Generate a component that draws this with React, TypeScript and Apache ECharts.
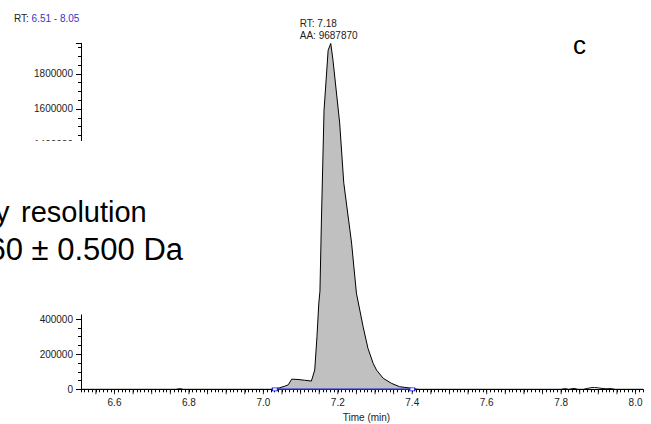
import React, { useEffect, useRef } from 'react';
import * as echarts from 'echarts';

// Retention time (min) and intensity of the chromatogram trace
const rtMinutes = [
  6.51, 6.55, 6.6, 6.65, 6.7, 6.74, 6.765, 6.775, 6.785, 6.82, 6.88, 6.94, 6.99, 7.02,
  7.031, 7.044, 7.058, 7.067, 7.076, 7.093, 7.11, 7.129, 7.138, 7.144, 7.149, 7.152,
  7.156, 7.163, 7.174, 7.181, 7.187, 7.205, 7.216, 7.229, 7.237, 7.25, 7.268, 7.281,
  7.295, 7.304, 7.322, 7.344, 7.366, 7.38, 7.393, 7.405, 7.42, 7.5, 7.6, 7.7, 7.78,
  7.8, 7.81, 7.82, 7.835, 7.845, 7.86, 7.87, 7.88, 7.89, 7.9, 7.91, 7.92, 7.935,
  7.945, 7.96, 8.0, 8.02,
];
const intensity = [
  0, 0, 0, 0, 0, 0, 0, 4000, 0, 0, 0, 0, 0, 0,
  1500, 9000, 18000, 26000, 58000, 56000, 52000, 47000, 110000, 300000, 492000, 560000,
  966000, 1593000, 1935000, 1974000, 1879000, 1521000, 1179000, 966000, 835000, 549000, 357000, 234000,
  148000, 110000, 62800, 34200, 14800, 11000, 7400, 2000, 0, 0, 0, 0, 0,
  0, 4000, 0, 5000, 0, 0, 5000, 9000, 10000, 8000, 5000, 3000, 4000,
  0, 0, 0, 0,
];

// Integrated peak
const peakStart = 7.031;
const peakEnd = 7.405;
const baselineTimes = [7.031, 7.4];
const apexTime = 7.181;
const apexIntensity = 1974000;
const apexLabel = ['RT: 7.18', 'AA: 9687870'];

// Axes
const xMin = 6.51;
const xMax = 8.02;
const xLabelTimes = [6.6, 6.8, 7.0, 7.2, 7.4, 7.6, 7.8, 8.0];
const xMediumTicks = [
  6.55, 6.6, 6.65, 6.7, 6.75, 6.8, 6.85, 6.9, 6.95, 7.0, 7.05, 7.1, 7.15, 7.2, 7.25,
  7.3, 7.35, 7.4, 7.45, 7.5, 7.55, 7.6, 7.65, 7.7, 7.75, 7.8, 7.85, 7.9, 7.95, 8.0,
];
const yMax = 1975000;
const yInterval = 200000;
// y labels hidden behind the inset note in the original
const yHiddenLabels = [600000, 800000, 1000000, 1200000];

// Texts
const rangeLabel = { prefix: 'RT: ', range: '6.51 - 8.05' };
const panelLetter = 'c';
const noteLine1a = 'y';
const noteLine1b = 'resolution';
const noteLine2 = '60 ± 0.500 Da';

const FONT = '"Liberation Sans", Arial, Helvetica, sans-serif';

export default function App() {
  const ref = useRef<HTMLDivElement>(null);

  useEffect(() => {
    if (!ref.current) return;
    const chart = echarts.init(ref.current, undefined, { renderer: 'svg' });

    const trace = rtMinutes.map((t, i) => [t, intensity[i]]);
    const peakArea = trace.filter(([t]) => t >= peakStart && t <= peakEnd);

    const option: any = {
      animation: false,
      backgroundColor: '#ffffff',
      textStyle: { fontFamily: FONT },
      title: {
        left: 9,
        top: 8,
        text: `{a|${rangeLabel.prefix}}{b|${rangeLabel.range}}`,
        textStyle: {
          fontWeight: 'normal',
          rich: {
            a: { fontSize: 10, color: '#222222', fontFamily: FONT, fontWeight: 'normal' },
            b: { fontSize: 10, color: '#3535c8', fontFamily: FONT, fontWeight: 'normal' },
          },
        },
      },
      grid: {
        left: 81,
        right: 8,
        top: 43.3,
        bottom: 34.7,
        containLabel: false,
        outerBoundsMode: 'none',
      },
      xAxis: {
        type: 'value',
        min: xMin,
        max: xMax,
        interval: 0.01,
        name: 'Time (min)',
        nameLocation: 'middle',
        nameGap: 22,
        nameTextStyle: { fontSize: 10, color: '#222222', fontFamily: FONT, padding: [0, 0, 0, 9] },
        axisLine: { show: true, onZero: false, lineStyle: { color: '#000', width: 1 } },
        axisTick: { show: true, inside: false, length: 3, lineStyle: { color: '#000', width: 1 } },
        axisLabel: {
          show: true,
          margin: 8,
          fontSize: 10,
          color: '#222222',
          fontFamily: FONT,
          formatter: (v: number) => {
            const hit = xLabelTimes.find((t) => Math.abs(t - v) < 1e-6);
            return hit !== undefined ? hit.toFixed(1) : '';
          },
        },
        splitLine: { show: false },
      },
      yAxis: {
        type: 'value',
        min: 0,
        max: yMax,
        interval: yInterval,
        axisLine: { show: true, lineStyle: { color: '#000', width: 1 } },
        axisTick: { show: true, inside: false, length: 5, lineStyle: { color: '#000', width: 1 } },
        minorTick: { show: true, splitNumber: 4, length: 3, lineStyle: { color: '#000', width: 1 } },
        axisLabel: {
          show: true,
          margin: 8,
          fontSize: 10,
          color: '#222222',
          fontFamily: FONT,
          showMaxLabel: false,
          formatter: (v: number) => {
            const r = Math.round(v);
            return yHiddenLabels.includes(r) ? '' : String(r);
          },
        },
        splitLine: { show: false },
      },
      series: [
        {
          type: 'line',
          name: 'peak area',
          data: peakArea,
          showSymbol: false,
          symbol: 'none',
          lineStyle: { width: 0, opacity: 0 },
          areaStyle: { color: '#c0c0c0', opacity: 1 },
          z: 2,
          silent: true,
        },
        {
          type: 'line',
          name: 'trace',
          data: trace,
          showSymbol: false,
          symbol: 'none',
          lineStyle: { color: '#000000', width: 1 },
          z: 3,
          silent: true,
          markPoint: {
            symbol: 'circle',
            symbolSize: 0,
            silent: true,
            data: [
              {
                coord: [apexTime, apexIntensity],
                label: {
                  show: true,
                  position: 'top',
                  distance: 1.5,
                  align: 'left',
                  offset: [-31, 0],
                  fontSize: 10,
                  lineHeight: 12,
                  color: '#222222',
                  fontFamily: FONT,
                  formatter: apexLabel.join('\n'),
                },
              },
            ],
          },
        },
        {
          type: 'line',
          name: 'baseline',
          data: baselineTimes.map((t) => [t, 0]),
          showSymbol: true,
          symbol: 'rect',
          symbolSize: [5, 3],
          itemStyle: { color: '#ffffff', borderColor: '#1f1fe0', borderWidth: 1 },
          lineStyle: { color: '#1f1fe0', width: 1.5 },
          z: 4,
          silent: true,
        },
        {
          type: 'scatter',
          name: 'ticks',
          data: xMediumTicks.map((t) => [t, 0]),
          symbol: 'rect',
          symbolSize: [1, 5],
          symbolOffset: [0, 2.5],
          itemStyle: { color: '#000000' },
          clip: false,
          z: 1,
          silent: true,
        },
      ],
      graphic: [
        {
          type: 'rect',
          z: 100,
          shape: { x: 0, y: 141, width: 200, height: 173.5 },
          style: { fill: '#ffffff' },
          silent: true,
        },
        {
          type: 'text',
          z: 101,
          x: -5,
          y: 211.7,
          style: { text: noteLine1a, fontSize: 29, fill: '#000', font: `29px ${FONT}`, verticalAlign: 'middle', align: 'left' },
        },
        {
          type: 'text',
          z: 101,
          x: 21,
          y: 211.7,
          style: { text: noteLine1b, fontSize: 29, fill: '#000', font: `29px ${FONT}`, verticalAlign: 'middle', align: 'left' },
        },
        {
          type: 'text',
          z: 101,
          x: -11.5,
          y: 249.5,
          style: { text: noteLine2, fontSize: 31, fill: '#000', font: `31px ${FONT}`, verticalAlign: 'middle', align: 'left' },
        },
        {
          type: 'text',
          z: 101,
          x: 579.5,
          y: 44.5,
          style: { text: panelLetter, fontSize: 26, fill: '#000', font: `26px ${FONT}`, verticalAlign: 'middle', align: 'center' },
        },
      ],
    };

    chart.setOption(option);
    return () => chart.dispose();
  }, []);

  return (
    <div
      ref={ref}
      style={{ position: 'absolute', left: 0, top: 0, width: 651, height: 424, background: '#fff' }}
    />
  );
}
